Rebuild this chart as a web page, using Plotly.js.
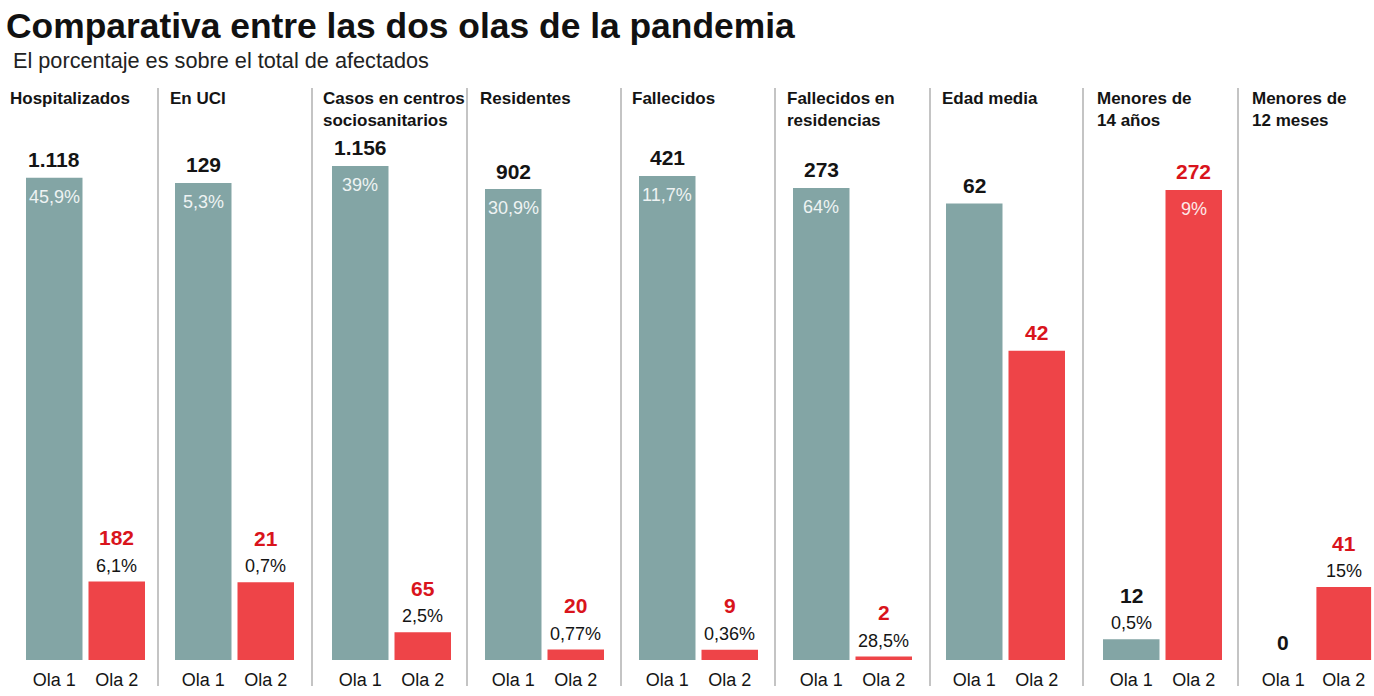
<!DOCTYPE html>
<html>
<head>
<meta charset="utf-8">
<script src="https://cdn.plot.ly/plotly-3.0.1.min.js"></script>
<style>
  html, body { margin: 0; padding: 0; background: #ffffff; }
  #chart { width: 1374px; height: 696px; }
</style>
</head>
<body>
<div id="chart"></div>
<script>
// ---------- DATA ----------
const categories = [
  "Hospitalizados", "En UCI", "Casos en centros<br>sociosanitarios", "Residentes",
  "Fallecidos", "Fallecidos en<br>residencias", "Edad media", "Menores de<br>14 años",
  "Menores de<br>12 meses"
];
const waveLabels = ["Ola 1", "Ola 2"];
const ola1Values = [1118, 129, 1156, 902, 421, 273, 62, 12, 0];
const ola2Values = [182, 21, 65, 20, 9, 2, 42, 272, 41];
const ola1Text = ["1.118", "129", "1.156", "902", "421", "273", "62", "12", "0"];
const ola2Text = ["182", "21", "65", "20", "9", "2", "42", "272", "41"];
const ola1Pct = ["45,9%", "5,3%", "39%", "30,9%", "11,7%", "64%", "", "0,5%", ""];
const ola2Pct = ["6,1%", "0,7%", "2,5%", "0,77%", "0,36%", "28,5%", "", "9%", "15%"];

// ---------- LAYOUT HELPERS ----------
const W = 1374, H = 696;
const fx = px => px / W;
const fy = py => 1 - py / H;

const FONT = "'Liberation Sans', Arial, sans-serif";
const TEAL = "#83a5a5";
const RED = "#ee4448";
const REDTXT = "#d9141c";
const INK = "#141414";

// panel geometry (pixels)
const barStarts = [26, 175, 332, 485, 639, 793, 946, 1103, 1256];
const headX = [8, 168, 321, 478, 630, 785, 940, 1095, 1250];
const seps = [158, 312, 467, 621, 775, 930, 1083, 1238];
const yMax = [1229, 143.3, 1240, 1015, 461, 306.5, 72, 306.7, 297.7];
const plotTop = 130, plotBase = 660;

const data = [];
const layout = {
  width: W, height: H,
  margin: { l: 0, r: 0, t: 0, b: 0 },
  paper_bgcolor: "#ffffff",
  plot_bgcolor: "rgba(0,0,0,0)",
  showlegend: false,
  bargap: 0.096,
  font: { family: FONT, color: INK },
  annotations: [],
  shapes: []
};

categories.forEach((cat, i) => {
  const n = i + 1;
  const xa = n === 1 ? "x" : "x" + n;
  const ya = n === 1 ? "y" : "y" + n;
  const xk = n === 1 ? "xaxis" : "xaxis" + n;
  const yk = n === 1 ? "yaxis" : "yaxis" + n;
  const left = barStarts[i] - 3;
  const right = Math.min(left + 125, W);

  data.push({
    type: "bar",
    x: waveLabels,
    y: [ola1Values[i], ola2Values[i]],
    xaxis: xa, yaxis: ya,
    marker: { color: [TEAL, RED], line: { width: 0 } },
    hoverinfo: "x+y"
  });

  layout[xk] = {
    domain: [fx(left), fx(right)],
    anchor: ya,
    type: "category",
    showgrid: false, zeroline: false, showline: false,
    ticks: "",
    ticklabelstandoff: 7,
    tickfont: { family: FONT, size: 18, color: INK },
    fixedrange: true
  };
  layout[yk] = {
    domain: [fy(plotBase), fy(plotTop)],
    anchor: xa,
    range: [0, yMax[i]],
    visible: false,
    fixedrange: true
  };

  // panel heading
  layout.annotations.push({
    xref: "paper", yref: "paper",
    x: fx(headX[i]), y: fy(87),
    xanchor: "left", yanchor: "top", align: "left",
    text: "<b>" + cat + "</b>",
    showarrow: false,
    font: { family: FONT, size: 17, color: INK }
  });

  // value + percentage labels
  const vals = [ola1Values[i], ola2Values[i]];
  const txt = [ola1Text[i], ola2Text[i]];
  const pct = [ola1Pct[i], ola2Pct[i]];
  vals.forEach((v, k) => {
    const inside = v / yMax[i] > 0.5;
    const valColor = k === 0 ? INK : REDTXT;
    if (pct[k] && inside) {
      layout.annotations.push({
        xref: xa, yref: ya, x: waveLabels[k], y: v,
        yanchor: "middle", yshift: -19, showarrow: false,
        text: pct[k],
        font: { family: FONT, size: 18, color: k === 0 ? "#eef3f3" : "#fdeaea" }
      });
      layout.annotations.push({
        xref: xa, yref: ya, x: waveLabels[k], y: v,
        yanchor: "middle", yshift: 18, showarrow: false,
        text: "<b>" + txt[k] + "</b>",
        font: { family: FONT, size: 21, color: valColor }
      });
    } else if (pct[k]) {
      layout.annotations.push({
        xref: xa, yref: ya, x: waveLabels[k], y: v,
        yanchor: "middle", yshift: 16, showarrow: false,
        text: pct[k],
        font: { family: FONT, size: 18, color: INK }
      });
      layout.annotations.push({
        xref: xa, yref: ya, x: waveLabels[k], y: v,
        yanchor: "middle", yshift: 44, showarrow: false,
        text: "<b>" + txt[k] + "</b>",
        font: { family: FONT, size: 21, color: valColor }
      });
    } else {
      layout.annotations.push({
        xref: xa, yref: ya, x: waveLabels[k], y: v,
        yanchor: "middle", yshift: 18, showarrow: false,
        text: "<b>" + txt[k] + "</b>",
        font: { family: FONT, size: 21, color: valColor }
      });
    }
  });
});

// separators
seps.forEach(sx => {
  layout.shapes.push({
    type: "line", xref: "paper", yref: "paper",
    x0: fx(sx), x1: fx(sx), y0: fy(88), y1: fy(686),
    line: { color: "#b0b0b0", width: 1.5 }
  });
});

// title & subtitle
layout.annotations.push({
  xref: "paper", yref: "paper", x: fx(4), y: fy(4),
  xanchor: "left", yanchor: "top", showarrow: false,
  text: "<b>Comparativa entre las dos olas de la pandemia</b>",
  font: { family: FONT, size: 35.4, color: "#111111" }
});
layout.annotations.push({
  xref: "paper", yref: "paper", x: fx(11), y: fy(46),
  xanchor: "left", yanchor: "top", showarrow: false,
  text: "El porcentaje es sobre el total de afectados",
  font: { family: FONT, size: 21.7, color: "#222222" }
});

Plotly.newPlot("chart", data, layout, { displayModeBar: false, staticPlot: true });
</script>
</body>
</html>
